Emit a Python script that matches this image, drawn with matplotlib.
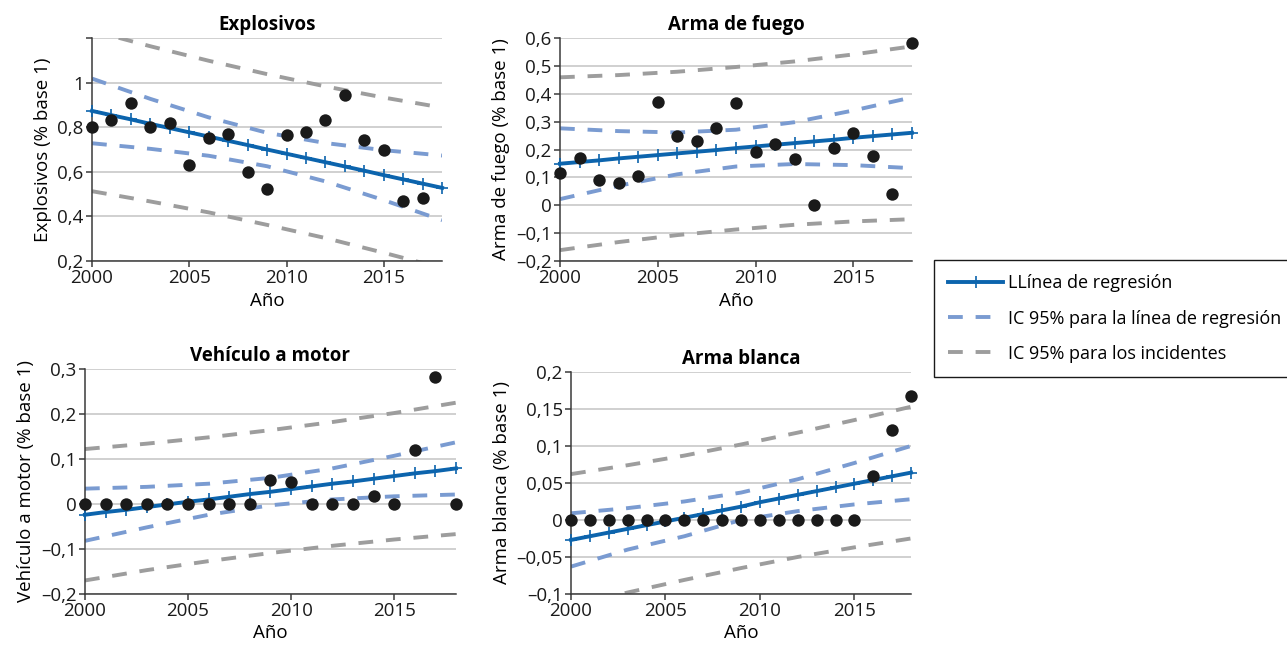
import matplotlib.pyplot as plt
from matplotlib.lines import Line2D

plt.rcParams['font.family'] = ['Open Sans', 'DejaVu Sans']

years = list(range(2000, 2019))
ci_years = [2000, 2003, 2006, 2009, 2012, 2015, 2018]

# Explosivos
expl_obs = [0.800, 0.831, 0.909, 0.800, 0.821, 0.630, 0.751, 0.769, 0.600,
            0.525, 0.763, 0.778, 0.833, 0.943, 0.742, 0.700, 0.470, 0.481]
expl_reg = [0.873, 0.854, 0.835, 0.815, 0.796, 0.777, 0.758, 0.739, 0.720, 0.700,
            0.681, 0.662, 0.643, 0.624, 0.605, 0.585, 0.566, 0.547, 0.528]
expl_ci_hi = [1.018, 0.927, 0.844, 0.775, 0.729, 0.697, 0.673]
expl_ci_lo = [0.728, 0.703, 0.672, 0.625, 0.557, 0.473, 0.383]
expl_pi_hi = [1.233, 1.163, 1.098, 1.038, 0.983, 0.933, 0.888]
expl_pi_lo = [0.513, 0.467, 0.418, 0.362, 0.303, 0.237, 0.168]

# Arma de fuego
fuego_obs = [0.114, 0.171, 0.090, 0.079, 0.106, 0.369, 0.249, 0.231, 0.278, 0.367,
             0.190, 0.221, 0.167, 0.000, 0.207, 0.259, 0.177, 0.039, 0.583]
fuego_reg = [0.149, 0.155, 0.161, 0.168, 0.174, 0.180, 0.186, 0.192, 0.198, 0.205,
             0.211, 0.217, 0.223, 0.229, 0.235, 0.242, 0.248, 0.254, 0.260]
fuego_ci_hi = [0.276, 0.266, 0.261, 0.271, 0.298, 0.340, 0.387]
fuego_ci_lo = [0.022, 0.070, 0.111, 0.139, 0.148, 0.144, 0.133]
fuego_pi_hi = [0.459, 0.467, 0.479, 0.496, 0.516, 0.541, 0.570]
fuego_pi_lo = [-0.161, -0.132, -0.107, -0.087, -0.070, -0.058, -0.050]

# Vehículo a motor
veh_obs = [0, 0, 0, 0, 0, 0, 0, 0, 0, 0.053, 0.048, 0, 0, 0, 0.017, 0, 0.119, 0.281, 0]
veh_reg = [-0.024, -0.018, -0.013, -0.007, -0.001, 0.005, 0.010, 0.016, 0.022, 0.027,
           0.033, 0.039, 0.045, 0.050, 0.056, 0.062, 0.068, 0.073, 0.079]
veh_ci_hi = [0.034, 0.038, 0.045, 0.058, 0.079, 0.107, 0.137]
veh_ci_lo = [-0.082, -0.052, -0.024, -0.003, 0.010, 0.017, 0.021]
veh_pi_hi = [0.122, 0.134, 0.148, 0.164, 0.182, 0.202, 0.225]
veh_pi_lo = [-0.170, -0.147, -0.127, -0.109, -0.093, -0.079, -0.067]

# Arma blanca
blanca_obs = [0, 0, 0, 0, 0, 0, 0, 0, 0, 0, 0, 0, 0, 0, 0, 0, 0.059, 0.121, 0.168]
blanca_reg = [-0.027, -0.022, -0.017, -0.012, -0.007, -0.002, 0.003, 0.008, 0.013, 0.018,
              0.024, 0.029, 0.034, 0.039, 0.044, 0.049, 0.054, 0.059, 0.064]
blanca_ci_hi = [0.009, 0.016, 0.025, 0.037, 0.055, 0.077, 0.100]
blanca_ci_lo = [-0.063, -0.040, -0.022, 0.000, 0.012, 0.021, 0.028]
blanca_pi_hi = [0.062, 0.074, 0.087, 0.102, 0.118, 0.135, 0.153]
blanca_pi_lo = [-0.116, -0.098, -0.081, -0.065, -0.050, -0.037, -0.025]

REG_COL = '#0c64ad'
CI_COL = '#7a9bd1'
PI_COL = '#9d9d9d'
DASH = (0, (3.8, 3.3))

fig = plt.figure(figsize=(12.87, 6.53), dpi=100)

panels = [
    # title, ylabel, obs, reg, ci, pi, ylim, yticks, ticklabels, rect
    ('Explosivos', 'Explosivos (% base 1)', expl_obs, expl_reg,
     (expl_ci_hi, expl_ci_lo), (expl_pi_hi, expl_pi_lo), (0.2, 1.2),
     [0.2, 0.4, 0.6, 0.8, 1.0, 1.2], ['0,2', '0,4', '0,6', '0,8', '1', ''],
     [0.0715, 0.6003, 0.272, 0.3415]),
    ('Arma de fuego', 'Arma de fuego (% base 1)', fuego_obs, fuego_reg,
     (fuego_ci_hi, fuego_ci_lo), (fuego_pi_hi, fuego_pi_lo), (-0.2, 0.6),
     [-0.2, -0.1, 0, 0.1, 0.2, 0.3, 0.4, 0.5, 0.6],
     ['–0,2', '–0,1', '0', '0,1', '0,2', '0,3', '0,4', '0,5', '0,6'],
     [0.4351, 0.6003, 0.2735, 0.3415]),
    ('Vehículo a motor', 'Vehículo a motor (% base 1)', veh_obs, veh_reg,
     (veh_ci_hi, veh_ci_lo), (veh_pi_hi, veh_pi_lo), (-0.2, 0.3),
     [-0.2, -0.1, 0, 0.1, 0.2, 0.3], ['–0,2', '–0,1', '0', '0,1', '0,2', '0,3'],
     [0.066, 0.0904, 0.2883, 0.3446]),
    ('Arma blanca', 'Arma blanca (% base 1)', blanca_obs, blanca_reg,
     (blanca_ci_hi, blanca_ci_lo), (blanca_pi_hi, blanca_pi_lo), (-0.1, 0.2),
     [-0.1, -0.05, 0, 0.05, 0.1, 0.15, 0.2],
     ['–0,1', '–0,05', '0', '0,05', '0,1', '0,15', '0,2'],
     [0.4437, 0.0904, 0.2642, 0.340]),
]

for title, ylabel, obs, reg, ci, pi, ylim, yticks, ylabels, rect in panels:
    ax = fig.add_axes(rect)
    ax.set_xlim(2000, 2018)
    ax.set_ylim(*ylim)
    ax.set_yticks(yticks)
    ax.set_yticklabels(ylabels)
    ax.set_xticks([2000, 2005, 2010, 2015])
    ax.yaxis.grid(True, color='#c4c4c4', lw=1.1)
    ax.set_axisbelow(True)
    for s in ('top', 'right'):
        ax.spines[s].set_visible(False)
    for s in ('left', 'bottom'):
        ax.spines[s].set_color('#3a3a3a')
        ax.spines[s].set_linewidth(1.1)
    ax.tick_params(axis='both', labelsize=13.5, color='#3a3a3a', length=4,
                   width=1.1, pad=2, labelcolor='#1a1a1a')

    for band in pi:
        ax.plot(ci_years, band, color=PI_COL, lw=2.8, linestyle=DASH)
    for band in ci:
        ax.plot(ci_years, band, color=CI_COL, lw=2.8, linestyle=DASH)
    ax.plot(years, reg, color=REG_COL, lw=2.8, marker='+', ms=8, mew=1.2,
            clip_on=False, zorder=4)
    ax.scatter(years[:len(obs)], obs, s=80, color='#1a1a1a', zorder=5,
               clip_on=False, linewidths=0)

    ax.set_title(title, fontsize=13.5, fontweight='bold', pad=6)
    ax.set_ylabel(ylabel, fontsize=13.5, labelpad=4)
    ax.set_xlabel('Año', fontsize=13.5, labelpad=3)

handles = [
    Line2D([], [], color=REG_COL, lw=2.8, marker='+', ms=8, mew=1.2, markevery=[1]),
    Line2D([], [], color=CI_COL, lw=2.8, linestyle=DASH),
    Line2D([], [], color=PI_COL, lw=2.8, linestyle=DASH),
]
labels = ['LLínea de regresión', 'IC 95% para la línea de regresión',
          'IC 95% para los incidentes']
fig.legend(handles, labels, loc='upper left', bbox_to_anchor=(934 / 1287, 1 - 260 / 653),
           fontsize=13, frameon=True, fancybox=False, edgecolor='#1a1a1a',
           framealpha=1, handlelength=3.0, handletextpad=0.3, borderpad=0.8,
           labelspacing=0.95, borderaxespad=0)

fig.savefig('out.png', dpi=100)
